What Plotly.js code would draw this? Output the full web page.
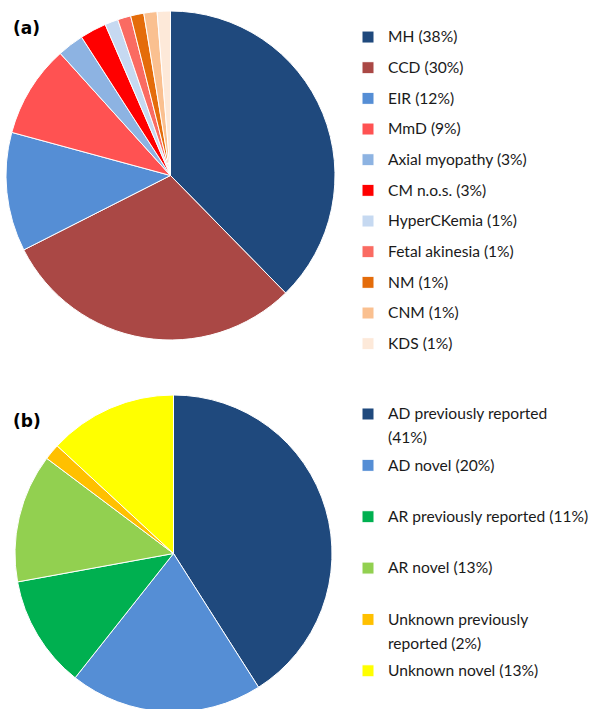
<!DOCTYPE html>
<html><head><meta charset="utf-8">
<script src="https://cdn.plot.ly/plotly-3.0.1.min.js"></script>
<style>html,body{margin:0;padding:0;overflow:hidden;background:#fff}</style>
</head><body><div id="chart" style="width:590px;height:712px"></div>
<script>
// Panel (a): phenotypes (counts, n = 77)
const phenotypeLabels = ['MH (38%)', 'CCD (30%)', 'EIR (12%)', 'MmD (9%)', 'Axial myopathy (3%)',
  'CM n.o.s. (3%)', 'HyperCKemia (1%)', 'Fetal akinesia (1%)', 'NM (1%)', 'CNM (1%)', 'KDS (1%)'];
const phenotypeCounts = [29, 23, 9, 7, 2, 2, 1, 1, 1, 1, 1];
const phenotypeColors = ['#1F497D', '#AA4845', '#558ED5', '#FF5252', '#8DB3E2', '#FF0000',
  '#C6D9F1', '#FA6B62', '#E46C0A', '#FAC090', '#FDE9D9'];

// Panel (b): variant classes (counts, n = 61)
const variantLabels = ['AD previously reported<br>(41%)', 'AD novel (20%)', 'AR previously reported (11%)',
  'AR novel (13%)', 'Unknown previously<br>reported (2%)', 'Unknown novel (13%)'];
const variantCounts = [25, 12, 7, 8, 1, 8];
const variantColors = ['#1F497D', '#558ED5', '#00B050', '#92D050', '#FFC000', '#FFFF00'];

const W = 590, H = 712;   // page viewport is 709 high; the lower pie is cut at the edge as in the figure
const FONT = 'Lato, "Open Sans", sans-serif';
const span = (t, shift) => '<span style="font-size:15.6px;baseline-shift:' + shift + 'px">' + t + '</span>';
const fmtA = phenotypeLabels.map(l => span(l, 3));
const fmtB = variantLabels.map(l => l.split('<br>').map(p => span(p, 2)).join('<br>') + (l.includes('<br>') ? '' : '<br>'));
const px = v => v / W, py = v => 1 - v / H;

const traces = [
  {
    type: 'pie', labels: fmtA, values: phenotypeCounts, sort: false, direction: 'clockwise', rotation: 0,
    marker: {colors: phenotypeColors, line: {color: '#ffffff', width: 1}},
    textinfo: 'none', hoverinfo: 'label+value', legend: 'legend',
    domain: {x: [px(6), px(335)], y: [py(340), py(11)]}
  },
  {
    type: 'pie', labels: fmtB, values: variantCounts, sort: false, direction: 'clockwise', rotation: 0,
    marker: {colors: variantColors, line: {color: '#ffffff', width: 1}},
    textinfo: 'none', hoverinfo: 'label+value', legend: 'legend2',
    domain: {x: [px(15), px(332)], y: [0, py(395)]}
  }
];

const layout = {
  width: W, height: H,
  margin: {l: 0, r: 0, t: 0, b: 0, autoexpand: false},
  paper_bgcolor: '#ffffff',
  showlegend: true,
  legend: {
    x: px(348), xanchor: 'left', y: py(16.7), yanchor: 'top',
    font: {family: FONT, size: 21.28, color: '#1a1a1a'},
    bgcolor: 'rgba(0,0,0,0)', borderwidth: 0, valign: 'middle'
  },
  legend2: {
    x: px(348), xanchor: 'left', y: py(395.4), yanchor: 'top',
    font: {family: FONT, size: 18.6, color: '#1a1a1a'},
    bgcolor: 'rgba(0,0,0,0)', borderwidth: 0, valign: 'top'
  },
  annotations: [
    {text: '<b>(a)</b>', xref: 'paper', yref: 'paper', x: px(11), y: py(28.5), xanchor: 'left', yanchor: 'middle',
     showarrow: false, font: {family: '"DejaVu Sans", sans-serif', size: 17, color: '#000'}},
    {text: '<b>(b)</b>', xref: 'paper', yref: 'paper', x: px(11), y: py(421), xanchor: 'left', yanchor: 'middle',
     showarrow: false, font: {family: '"DejaVu Sans", sans-serif', size: 17, color: '#000'}}
  ]
};

Plotly.newPlot('chart', traces, layout, {displayModeBar: false, staticPlot: true});
</script></body></html>
